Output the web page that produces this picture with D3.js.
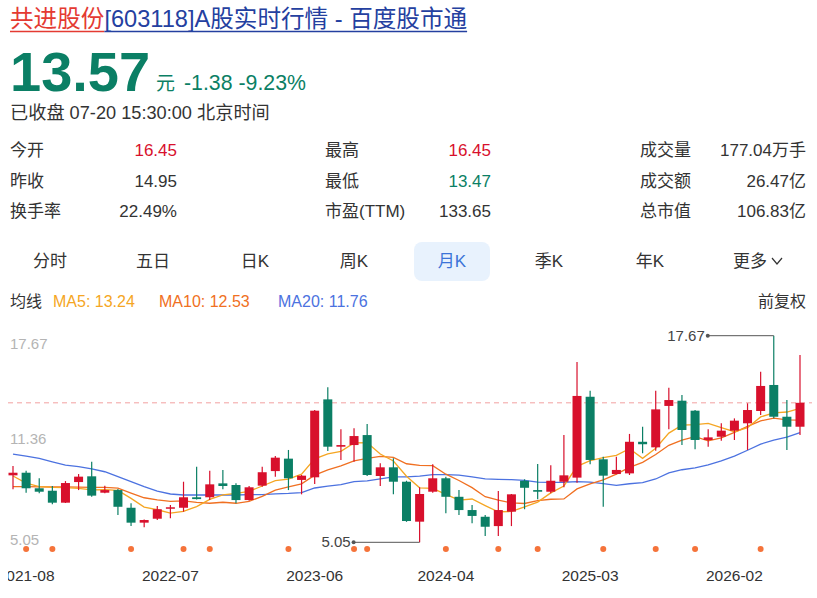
<!DOCTYPE html>
<html><head><meta charset="utf-8">
<script src="https://cdn.jsdelivr.net/npm/d3@7"></script>
<style>
body{margin:0;background:#fff;}
text{font-family:"Liberation Sans",Arial,"Noto Sans CJK SC",sans-serif;}
</style></head>
<body><svg id="c" width="817" height="598"></svg>
<script>
// ---------- data ----------
const months = ["2021-07","2021-08","2021-09","2021-10","2021-11","2021-12",
"2022-01","2022-02","2022-03","2022-04","2022-05","2022-06","2022-07","2022-08","2022-09","2022-10","2022-11","2022-12",
"2023-01","2023-02","2023-03","2023-04","2023-05","2023-06","2023-07","2023-08","2023-09","2023-10","2023-11","2023-12",
"2024-01","2024-02","2024-03","2024-04","2024-05","2024-06","2024-07","2024-08","2024-09","2024-10","2024-11","2024-12",
"2025-01","2025-02","2025-03","2025-04","2025-05","2025-06","2025-07","2025-08","2025-09","2025-10","2025-11","2025-12",
"2026-01","2026-02","2026-03","2026-04","2026-05","2026-06","2026-07"];
const openP  = [9.14,9.30,8.35,8.20,7.47,8.73,9.08,8.08,8.24,7.16,6.25,6.49,7.10,7.16,7.80,7.80,8.65,8.55,7.63,8.51,
9.40,10.16,8.86,9.02,13.78,10.89,10.99,11.60,9.10,9.63,8.75,6.31,8.14,8.96,7.83,7.02,6.61,6.04,6.92,8.81,
8.24,8.14,8.75,9.00,13.94,10.12,9.22,9.26,11.19,10.85,13.38,13.70,13.09,11.30,11.50,11.87,12.32,13.07,14.66,12.72,12.11];
const closeP = [9.30,8.35,8.14,7.47,8.67,9.06,7.90,8.24,7.22,6.25,6.41,7.07,7.19,7.80,7.69,8.59,8.49,7.63,8.41,9.33,
10.22,8.96,9.12,13.09,10.89,10.99,11.54,9.16,9.63,8.75,6.35,8.00,8.96,7.83,7.02,6.66,6.00,7.02,7.98,8.38,
8.14,8.81,9.14,13.99,10.08,9.12,9.47,11.19,11.04,13.17,13.74,11.91,11.30,11.46,11.87,12.48,13.13,14.60,12.72,12.11,13.57];
const highP  = [9.71,9.42,8.96,8.49,8.79,9.22,9.97,8.51,8.30,7.43,6.45,7.27,7.33,8.75,9.67,9.42,9.47,8.65,8.49,9.67,
10.32,10.69,9.16,13.13,14.52,11.95,12.01,12.28,9.88,10.18,8.81,8.41,9.81,9.06,8.24,7.33,6.72,8.18,8.00,8.90,
9.83,9.75,11.60,16.06,14.31,10.28,10.28,11.67,12.11,14.31,14.49,14.05,13.13,11.95,12.32,12.62,13.54,15.47,17.67,13.74,16.49];
const lowP   = [8.29,8.08,8.04,7.37,7.45,8.24,7.83,8.04,6.72,6.04,5.97,6.41,6.52,6.92,7.66,7.63,8.29,7.43,7.59,8.45,
9.06,8.24,7.98,8.61,10.63,10.08,9.97,9.10,8.49,7.98,6.30,5.05,8.08,6.82,6.72,6.21,5.43,5.43,6.04,7.07,
7.68,8.04,8.41,8.69,9.81,7.22,9.20,9.16,10.49,10.64,11.95,10.99,10.73,10.89,11.26,11.30,10.69,12.83,12.62,10.69,11.60];
const ma5Head  = [9.10,8.67,8.45,8.40];
const ma10Head = [8.45,8.45,8.44,8.43,8.43,8.42,8.41,8.40,8.36];
const ma20Head = [10.44,10.32,10.18,9.97,9.77,9.67,9.53,9.36,9.06,8.75,8.45,8.18,8.00,7.94,7.94,7.94,7.94,7.94,7.96];
const eventMonths = ["2021-08","2021-10","2022-04","2022-08","2022-10","2023-04","2023-09","2023-10","2024-04","2024-08","2024-11","2025-04","2025-08","2025-11","2026-04"];
const tickMonths = ["2021-08","2022-07","2023-06","2024-04","2025-03","2026-02"];
const yTicks = [17.67, 11.36, 5.05];
const lastPrice = 13.57;
const maLegend = [["MA5: 13.24","#f5a623"],["MA10: 12.53","#f07022"],["MA20: 11.76","#4c72e0"]];
const tabs = ["分时","五日","日K","周K","月K","季K","年K","更多"];
const stats = [
 [["今开","16.45","up"],["最高","16.45","up"],["成交量","177.04万手",""]],
 [["昨收","14.95",""],["最低","13.47","down"],["成交额","26.47亿",""]],
 [["换手率","22.49%",""],["市盈(TTM)","133.65",""],["总市值","106.83亿",""]]
];

// ---------- drawing ----------
const RED="#d8102c", GREEN="#0b7f65", DARK="#333";
const svg = d3.select("#c");
const cand = months.map((m,i)=>({m,o:openP[i],c:closeP[i],h:highP[i],l:lowP[i]}));

// header
const title = svg.append("text").attr("x",10).attr("y",27).attr("font-size",23.6);
title.append("tspan").attr("fill","#e43a32").text("共进股份");
title.append("tspan").attr("fill","#2440a0").text("[603118]A股实时行情 - 百度股市通");
const ts = title.selectAll("tspan").nodes();
const w1 = ts[0].getComputedTextLength(), w2 = ts[1].getComputedTextLength();
svg.append("line").attr("x1",10).attr("x2",10+w1).attr("y1",31.5).attr("y2",31.5).attr("stroke","#e43a32").attr("stroke-width",1.3);
svg.append("line").attr("x1",10+w1).attr("x2",10+w1+w2).attr("y1",31.5).attr("y2",31.5).attr("stroke","#2440a0").attr("stroke-width",1.3);

svg.append("text").attr("x",10).attr("y",91).attr("font-size",56).attr("font-weight","bold").attr("fill",GREEN).text("13.57");
svg.append("text").attr("x",156).attr("y",90).attr("font-size",19).attr("fill",GREEN).text("元");
svg.append("text").attr("x",184).attr("y",90).attr("font-size",21.3).attr("fill",GREEN).text("-1.38 -9.23%");
svg.append("text").attr("x",10).attr("y",119).attr("font-size",18.2).attr("fill",DARK).text("已收盘 07-20 15:30:00 北京时间");

// stats
const colX = [[10,177],[325,491],[640,806]];
stats.forEach((row,r)=>{
  row.forEach((cell,k)=>{
    const yy = 156 + r*30.5;
    svg.append("text").attr("x",colX[k][0]).attr("y",yy).attr("font-size",17).attr("fill",DARK).text(cell[0]);
    svg.append("text").attr("x",colX[k][1]).attr("y",yy).attr("font-size",17).attr("text-anchor","end")
      .attr("fill",cell[2]==="up"?RED:cell[2]==="down"?GREEN:DARK).text(cell[1]);
  });
});

// tabs
const tabX = [50,153,255,354,452,549,650,750];
svg.append("rect").attr("x",414).attr("y",242).attr("width",76).attr("height",39).attr("rx",8).attr("fill","#e8f2fd");
tabs.forEach((t,i)=>{
  svg.append("text").attr("x",tabX[i]).attr("y",267).attr("font-size",17).attr("text-anchor","middle")
    .attr("fill",i===4?"#3b74d8":DARK).text(t);
});
svg.append("path").attr("d","M772,258 L777,264 L782,258").attr("fill","none").attr("stroke",DARK).attr("stroke-width",1.2);

// legend
svg.append("text").attr("x",10).attr("y",307).attr("font-size",16).attr("fill",DARK).text("均线");
const lgX=[53,159,278];
maLegend.forEach((d,i)=>svg.append("text").attr("x",lgX[i]).attr("y",307).attr("font-size",16).attr("fill",d[1]).text(d[0]));
svg.append("text").attr("x",806).attr("y",307).attr("font-size",16).attr("text-anchor","end").attr("fill",DARK).text("前复权");

// scales
const x = d3.scalePoint().domain(months).range([13,800]);
const y = d3.scaleLinear().domain([5.05,17.67]).range([542.3,335.7]);

svg.append("defs").append("clipPath").attr("id","clip").append("rect").attr("x",8).attr("y",320).attr("width",806).attr("height",278);
const g = svg.append("g").attr("clip-path","url(#clip)");

// y labels
yTicks.forEach((v,i)=>{
  const off = i===0?13.6:(i===1?4.6:3);
  g.append("text").attr("x",10).attr("y",y(v)+off).attr("font-size",15).attr("fill","#b4b4b4").text(d3.format(".2f")(v));
});

// last price dashed line
g.append("line").attr("x1",8).attr("x2",812).attr("y1",y(lastPrice)).attr("y2",y(lastPrice))
  .attr("stroke","#f2a0a0").attr("stroke-dasharray","5,4").attr("stroke-width",1);

// moving averages
function ma(n, head){
  return closeP.map((c,i)=> i < n-1 ? head[i] : d3.mean(closeP.slice(i-n+1,i+1)));
}
const line = d3.line().x((d,i)=>x(months[i])).y(d=>y(d)).curve(d3.curveLinear);
[[ma(20,ma20Head),"#4c72e0"],[ma(10,ma10Head),"#f07022"],[ma(5,ma5Head),"#f5a623"]].forEach(([vals,col])=>{
  g.append("path").datum(vals).attr("d",line).attr("fill","none").attr("stroke",col).attr("stroke-width",1.3);
});

// candles
const bw = 9;
const cg = g.selectAll("g.k").data(cand).join("g").attr("class","k");
cg.append("line").attr("x1",d=>x(d.m)).attr("x2",d=>x(d.m)).attr("y1",d=>y(d.h)).attr("y2",d=>y(d.l))
  .attr("stroke",d=>d.c>=d.o?RED:GREEN).attr("stroke-width",1.2);
cg.append("rect").attr("x",d=>x(d.m)-bw/2).attr("width",bw)
  .attr("y",d=>y(Math.max(d.o,d.c))).attr("height",d=>Math.max(1.5,Math.abs(y(d.o)-y(d.c))))
  .attr("fill",d=>d.c>=d.o?RED:GREEN);

// max/min annotations
const iMax = d3.maxIndex(highP), iMin = d3.minIndex(lowP);
[[iMax,highP[iMax]],[iMin,lowP[iMin]]].forEach(([i,v])=>{
  const xx = x(months[i]), yy = y(v), x0 = xx-66;
  g.append("line").attr("x1",x0).attr("x2",xx).attr("y1",yy).attr("y2",yy).attr("stroke","#555").attr("stroke-width",1);
  g.append("circle").attr("cx",x0).attr("cy",yy).attr("r",2).attr("fill","#555");
  g.append("text").attr("x",x0-3).attr("y",yy+5).attr("font-size",15).attr("text-anchor","end").attr("fill","#444").text(v.toFixed(2));
});

// event dots
g.selectAll("circle.ev").data(eventMonths).join("circle").attr("class","ev")
  .attr("cx",d=>x(d)).attr("cy",549).attr("r",3).attr("fill","#f5733a");

// x labels
tickMonths.forEach(m=>{
  g.append("text").attr("x",x(m)).attr("y",580.5).attr("font-size",15.5).attr("text-anchor","middle").attr("fill",DARK).text(m);
});
</script></body></html>
